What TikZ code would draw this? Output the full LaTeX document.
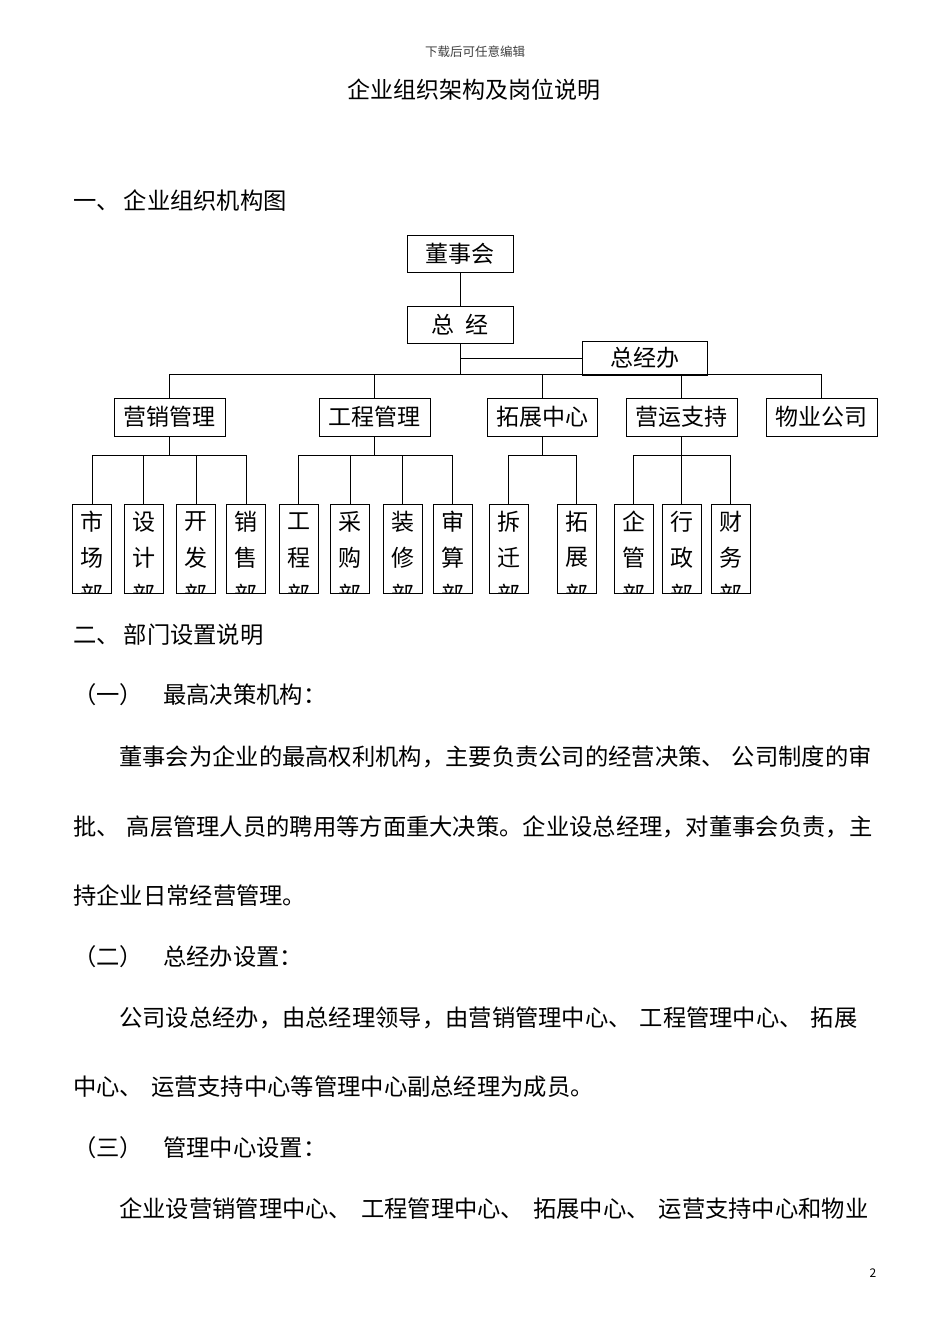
\documentclass[tikz,border=0pt]{standalone}
\usepackage{fontspec}
\setmainfont{Noto Sans CJK SC}
\usetikzlibrary{calc}
\begin{document}
\begin{tikzpicture}[x=1pt,y=-1pt,
  box/.style={draw, line width=1pt, inner sep=0pt, minimum height=37pt, font=\fontsize{23}{23}\selectfont},
  vbox/.style={draw, line width=1pt, inner sep=0pt, minimum width=39pt, minimum height=89pt},
  ch/.style={inner sep=0pt, font=\fontsize{23}{23}\selectfont},
  txt/.style={anchor=west, inner sep=0pt, font=\fontsize{23.3}{23.3}\selectfont},
  link/.style={line width=1pt}]
\useasboundingbox[fill=white] (0,0) rectangle (950,1344);

% header and titles
\node[inner sep=0pt, font=\fontsize{12.5}{12.5}\selectfont, text=black!75] (hdr) at (475,52) {下载后可任意编辑};
\node[ch] (title) at (474,90) {企业组织架构及岗位说明};
\node[txt] (h1) at (73,201) {一、\hspace{4pt}企业组织机构图};

% org chart top
\node[box, minimum width=106pt] (dsh) at (460,254) {董事会};
\node[box, minimum width=106pt] (zj) at (460,324.5) {总\hspace{11pt}经};
\node[box, minimum width=125pt, minimum height=34pt] (zjb) at (644.5,358) {总经办};
\coordinate (bus) at (460,374);
\coordinate (b3) at (460,455);

% level 2
\node[box, minimum width=111pt, minimum height=38pt] (yx) at (169.5,417) {营销管理};
\node[box, minimum width=111pt, minimum height=38pt] (gc) at (374.5,417) {工程管理};
\node[box, minimum width=110pt, minimum height=38pt] (tz) at (542,417) {拓展中心};
\node[box, minimum width=111pt, minimum height=38pt] (yy) at (681.5,417) {营运支持};
\node[box, minimum width=111pt, minimum height=38pt] (wy) at (821.5,417) {物业公司};

% level 3
\foreach \n/\x/\a/\b in {m1/92/市/场, m2/143.5/设/计, m3/196/开/发, m4/246/销/售,
  g1/298.5/工/程, g2/350/采/购, g3/402.5/装/修, g4/452.5/审/算,
  t1/508.5/拆/迁, t2/576.5/拓/展,
  y1/633.5/企/管, y2/681.5/行/政, y3/730.5/财/务}{
  \node[vbox] (\n) at (\x,548.5) {};
  \node[ch] (\n a) at ([yshift=-18pt]\n.north) {\a};
  \node[ch] (\n b) at ([yshift=-54pt]\n.north) {\b};
  \begin{scope}
    \clip (\n.north west) rectangle (\n.south east);
    \node[ch] (\n c) at ([yshift=-91pt]\n.north) {部};
  \end{scope}
}

% connectors top
\draw[link] (dsh.south) -- (zj.north);
\draw[link] (zj.south) -- (bus);
\draw[link] (zj.south |- zjb.west) -- (zjb.west);
\draw[link] (yx.north) -- (yx.north |- bus) -- (wy.north |- bus) -- (wy.north);
\foreach \n in {gc,tz,yy}{ \draw[link] (\n.north) -- (\n.north |- bus); }

% connectors level 3
\draw[link] (yx.south) -- (yx.south |- b3);
\draw[link] (m1.north) -- (m1.north |- b3) -- (m4.north |- b3) -- (m4.north);
\foreach \n in {m2,m3}{ \draw[link] (\n.north) -- (\n.north |- b3); }
\draw[link] (gc.south) -- (gc.south |- b3);
\draw[link] (g1.north) -- (g1.north |- b3) -- (g4.north |- b3) -- (g4.north);
\foreach \n in {g2,g3}{ \draw[link] (\n.north) -- (\n.north |- b3); }
\draw[link] (tz.south) -- (tz.south |- b3);
\draw[link] (t1.north) -- (t1.north |- b3) -- (t2.north |- b3) -- (t2.north);
\draw[link] (yy.south) -- (yy.south |- b3);
\draw[link] (y1.north) -- (y1.north |- b3) -- (y3.north |- b3) -- (y3.north);
\draw[link] (y2.north) -- (y2.north |- b3);

% section 2
\node[txt] (h2) at (73,635) {二、\hspace{4pt}部门设置说明};
\node[txt] (s1a) at (73,695) {（一）};
\node[txt] (s1b) at (163,695) {最高决策机构：};
\node[txt] (p1a) at (119,757) {董事会为企业的最高权利机构，主要负责公司的经营决策、\hspace{7pt}公司制度的审};
\node[txt] (p1b) at (73,827) {批、\hspace{7pt}高层管理人员的聘用等方面重大决策。企业设总经理，对董事会负责，主};
\node[txt] (p1c) at (73,896) {持企业日常经营管理。};
\node[txt] (s2a) at (73,957) {（二）};
\node[txt] (s2b) at (163,957) {总经办设置：};
\node[txt] (p2a) at (119,1018) {公司设总经办，由总经理领导，由营销管理中心、\hspace{8pt}工程管理中心、\hspace{8pt}拓展};
\node[txt] (p2b) at (73,1087) {中心、\hspace{8pt}运营支持中心等管理中心副总经理为成员。};
\node[txt] (s3a) at (73,1148) {（三）};
\node[txt] (s3b) at (163,1148) {管理中心设置：};
\node[txt] (p3a) at (119,1209) {企业设营销管理中心、\hspace{9pt}工程管理中心、\hspace{9pt}拓展中心、\hspace{9pt}运营支持中心和物业};

\node[inner sep=0pt, font=\fontsize{12}{12}\selectfont] (pg) at (873,1273) {2};
\end{tikzpicture}
\end{document}
